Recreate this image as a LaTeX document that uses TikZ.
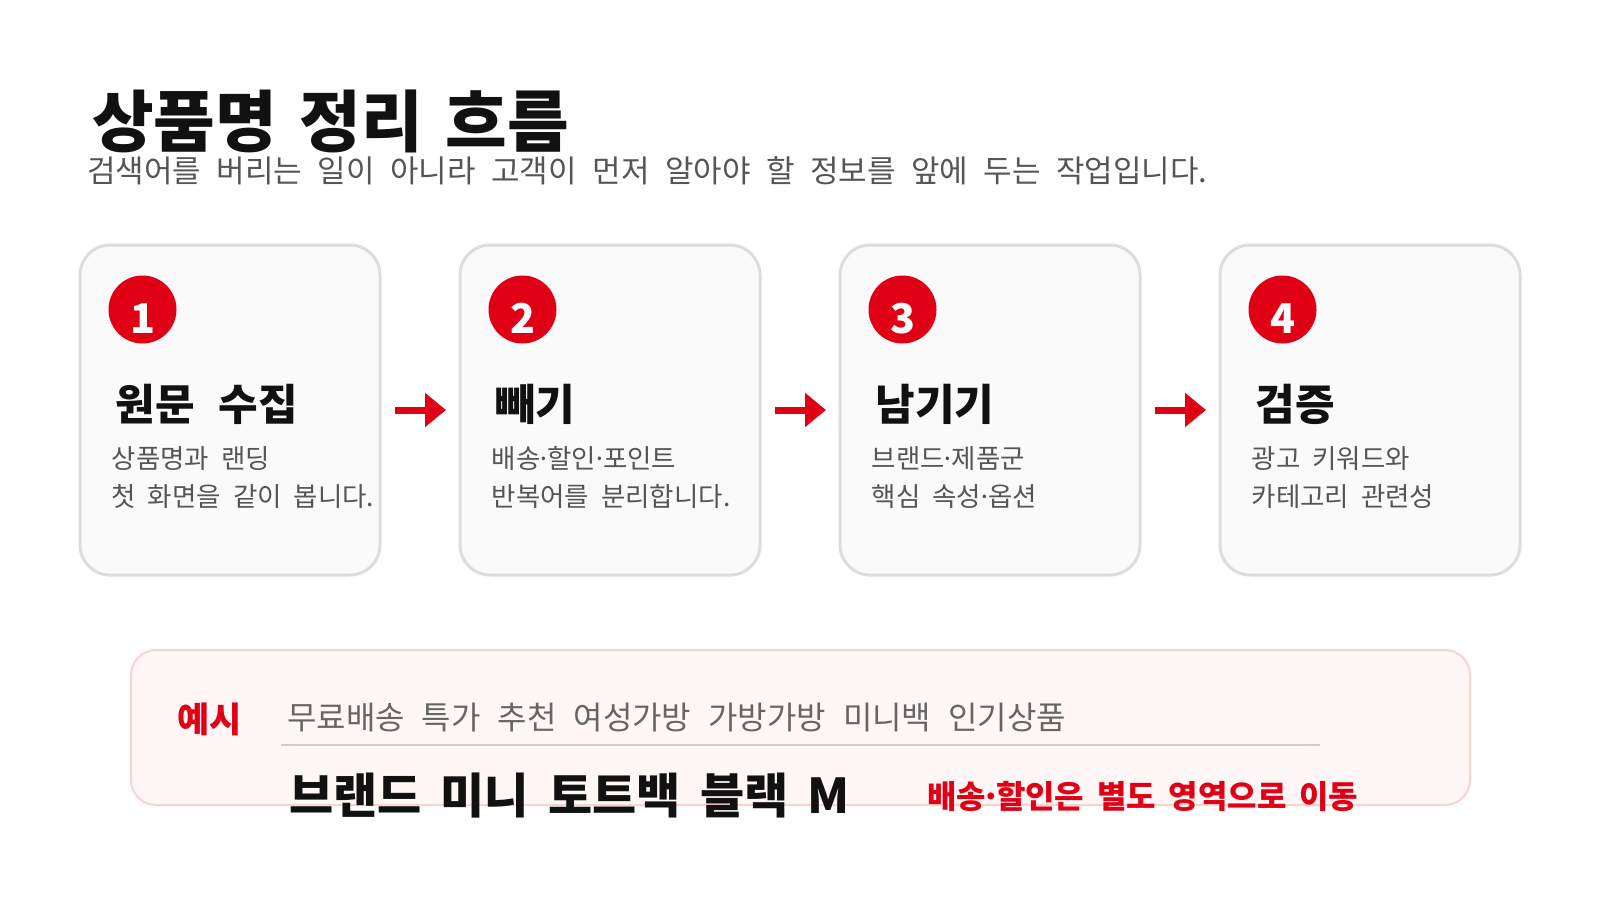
\documentclass[tikz,border=0pt]{standalone}
\usepackage{fontspec}
\setmainfont{Noto Sans CJK KR}
\definecolor{flowRed}{HTML}{E00016}
\definecolor{flowInk}{HTML}{111111}
\definecolor{flowGray}{HTML}{555555}
\definecolor{cardFill}{HTML}{FAFAFA}
\definecolor{cardLine}{HTML}{DDDDDD}
\definecolor{noteFill}{HTML}{FFF6F6}
\definecolor{noteLine}{HTML}{FAD2D2}
\definecolor{ruleGray}{HTML}{CCCCCC}
\usetikzlibrary{arrows.meta, positioning, calc}
\newcommand\mdot{\kern-0.15em·\kern-0.15em}
\newcommand\wide[1]{\spaceskip=#1em\relax}

\begin{document}
\begin{tikzpicture}[x=1pt, y=-1pt,
  card/.style={draw=cardLine, fill=cardFill, line width=3pt, rounded corners=30pt,
    minimum width=300pt, minimum height=330pt},
  badge/.style={circle, fill=flowRed, minimum size=68pt, inner sep=0pt,
    text=white, font=\fontsize{41pt}{45pt}\selectfont\bfseries,
    text height=48pt, text depth=0pt},
  steptitle/.style={anchor=west, inner sep=0pt, text=flowInk,
    font=\fontsize{43pt}{48pt}\selectfont\bfseries\wide{0.55}},
  stepdesc/.style={anchor=north west, inner sep=0pt, text=flowGray, align=left,
    font=\fontsize{26.5pt}{38pt}\selectfont\wide{0.45}},
  flowarrow/.style={draw=flowRed, line width=7pt, -{Triangle[length=21pt, width=33pt]},
    shorten <=13.5pt, shorten >=12.5pt}]
  \useasboundingbox[fill=white] (0,0) rectangle (1600,900);

  % heading
  \node[anchor=west, inner sep=0pt, text=flowInk,
    font=\fontsize{67pt}{72pt}\selectfont\bfseries\wide{0.34}] (head) at (92,121.5)
    {상품명 정리 흐름};
  \node[anchor=west, inner sep=0pt, text=flowGray,
    font=\fontsize{31pt}{36pt}\selectfont\wide{0.5}] (sub) at (87,170.5)
    {검색어를 버리는 일이 아니라 고객이 먼저 알아야 할 정보를 앞에 두는 작업입니다.};

  % step cards
  \node[card] (card1) at (230,410) {};
  \node[card] (card2) at (610,410) {};
  \node[card] (card3) at (990,410) {};
  \node[card] (card4) at (1370,410) {};

  \node[badge] (b1) at ([xshift=64pt, yshift=-66pt]card1.north west) {1};
  \node[badge] (b2) at ([xshift=64pt, yshift=-66pt]card2.north west) {2};
  \node[badge] (b3) at ([xshift=64pt, yshift=-66pt]card3.north west) {3};
  \node[badge] (b4) at ([xshift=64pt, yshift=-66pt]card4.north west) {4};

  \node[steptitle] (t1) at ([xshift=37pt, yshift=-161pt]card1.north west) {원문 수집};
  \node[steptitle] (t2) at ([xshift=37pt, yshift=-161pt]card2.north west) {빼기};
  \node[steptitle] (t3) at ([xshift=37pt, yshift=-161pt]card3.north west) {남기기};
  \node[steptitle] (t4) at ([xshift=37pt, yshift=-161pt]card4.north west) {검증};

  \node[stepdesc] (d1) at ([xshift=33pt, yshift=-203pt]card1.north west)
    {상품명과 랜딩\\첫 화면을 같이 봅니다.};
  \node[stepdesc] (d2) at ([xshift=33pt, yshift=-203pt]card2.north west)
    {배송\mdot 할인\mdot 포인트\\반복어를 분리합니다.};
  \node[stepdesc] (d3) at ([xshift=33pt, yshift=-203pt]card3.north west)
    {브랜드\mdot 제품군\\핵심 속성\mdot 옵션};
  \node[stepdesc] (d4) at ([xshift=33pt, yshift=-203pt]card4.north west)
    {광고 키워드와\\카테고리 관련성};

  \draw[flowarrow] (card1) -- (card2);
  \draw[flowarrow] (card2) -- (card3);
  \draw[flowarrow] (card3) -- (card4);

  % example box
  \node[draw=noteLine, fill=noteFill, line width=2pt, rounded corners=25pt,
    minimum width=1339pt, minimum height=155pt] (ex) at (800.5,727.5) {};
  \node[anchor=west, inner sep=0pt, text=flowRed,
    font=\fontsize{35pt}{40pt}\selectfont\bfseries] (extag) at (177,719) {예시};
  \node[anchor=west, inner sep=0pt, text=flowGray!90,
    font=\fontsize{32pt}{36pt}\selectfont\wide{0.53}] (before) at (287,718)
    {무료배송 특가 추천 여성가방 가방가방 미니백 인기상품};
  \coordinate (ruleL) at (281,745);
  \coordinate (ruleR) at (1320,745);
  \draw[ruleGray, line width=2pt] (ruleL) -- (ruleR);
  \node[anchor=west, inner sep=0pt, text=flowInk,
    font=\fontsize{48pt}{52pt}\selectfont\bfseries\wide{0.4}] (after) at (289,795.5)
    {브랜드 미니 토트백 블랙 M};
  \node[anchor=west, inner sep=0pt, text=flowRed,
    font=\fontsize{32pt}{38pt}\selectfont\bfseries\wide{0.4}] (note) at (927,796)
    {배송\mdot 할인은 별도 영역으로 이동};
\end{tikzpicture}
\end{document}
